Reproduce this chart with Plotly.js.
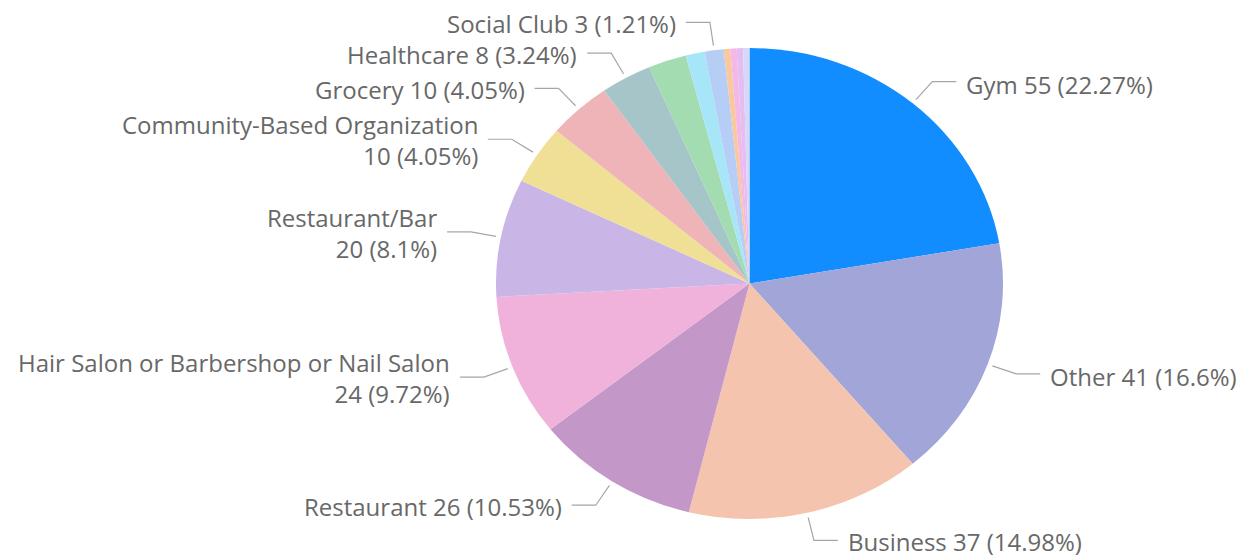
<!DOCTYPE html>
<html>
<head>
<meta charset="utf-8">
<script src="https://cdn.plot.ly/plotly-3.0.1.min.js"></script>
<style>
html,body{margin:0;padding:0;background:#fff;}
#chart{width:1242px;height:558px;}
</style>
</head>
<body>
<div id="chart"></div>
<script>
// ---- data ----
const categories = [
  'Gym', 'Other', 'Business', 'Restaurant',
  'Hair Salon or Barbershop or Nail Salon', 'Restaurant/Bar',
  'Community-Based Organization', 'Grocery', 'Healthcare',
  'Unlabeled 1', 'Unlabeled 2', 'Social Club',
  'Unlabeled 3', 'Unlabeled 4', 'Unlabeled 5', 'Unlabeled 6'
];
const counts = [55, 41, 37, 26, 24, 20, 10, 10, 8, 6, 3, 3, 1, 1, 1, 1];
const colors = [
  '#118DFF', '#A1A5D7', '#F4C4AE', '#C497C9', '#F0B2DA', '#C9B6E6',
  '#F0E096', '#EEB4B8', '#A6C5C8', '#A2DCB0', '#A6E6F8', '#B6CDF6',
  '#FAC89D', '#F3B8E6', '#E6BDF2', '#D6D8F8'
];
// which slices carry a data label, and which labels wrap onto two lines
const labelled = ['Gym','Other','Business','Restaurant','Hair Salon or Barbershop or Nail Salon',
  'Restaurant/Bar','Community-Based Organization','Grocery','Healthcare','Social Club'];
const wrapped = ['Hair Salon or Barbershop or Nail Salon','Restaurant/Bar','Community-Based Organization'];

// ---- layout geometry (pixels) ----
const W = 1242, H = 558;
const CX = 749.5, CY = 283.5, RY = 235.5, RX = 253.5;
const FONT = '"Segoe UI", "Open Sans", "Noto Sans", sans-serif';
const FONT_SIZE = 24;
const TEXT_COLOR = '#686868';
const LINE_COLOR = '#A6A6A6';

const total = counts.reduce((a, b) => a + b, 0);
const fmtPct = v => String(Number((v / total * 100).toFixed(2)));

const trace = {
  type: 'pie',
  labels: categories,
  values: counts,
  sort: false,
  direction: 'clockwise',
  rotation: 0,
  textinfo: 'none',
  hoverinfo: 'skip',
  marker: { colors: colors, line: { width: 0 } },
  domain: { x: [(CX - RY) / W, (CX + RY) / W], y: [(H - CY - RY) / H, (H - CY + RY) / H] },
  showlegend: false
};

// leader lines + labels derived from slice mid angles
const shapes = [];
const annotations = [];
const px = x => x / W, py = y => 1 - y / H;
let cum = 0;
counts.forEach((v, i) => {
  const mid = (cum + v / 2) / total * 2 * Math.PI;
  cum += v;
  const name = categories[i];
  if (!labelled.includes(name)) return;
  const s = Math.sin(mid), c = Math.cos(mid);
  const x0 = CX + RX * 1.02 * s, y0 = CY - RY * 1.02 * c;
  const x1 = CX + RX * 1.12 * s, y1 = CY - RY * 1.12 * c;
  const right = s >= 0;
  const x2 = x1 + (right ? 24 : -24);
  shapes.push({
    type: 'path', xref: 'paper', yref: 'paper',
    path: `M ${px(x0)} ${py(y0)} L ${px(x1)} ${py(y1)} L ${px(x2)} ${py(y1)}`,
    line: { color: LINE_COLOR, width: 1.2 }
  });
  const txt = wrapped.includes(name)
    ? `${name}<br>${v} (${fmtPct(v)}%)`
    : `${name} ${v} (${fmtPct(v)}%)`;
  // keep the text centre a little below the leader line, but inside the canvas
  let shift = right ? 3 : 1;
  const maxCentre = H - FONT_SIZE * 0.68;
  if (y1 + shift > maxCentre) shift = maxCentre - y1;
  annotations.push({
    xref: 'paper', yref: 'paper',
    x: px(x2 + (right ? 8 : -8)), y: py(y1),
    xanchor: right ? 'left' : 'right', yanchor: 'middle',
    yshift: -shift,
    align: right ? 'left' : 'right',
    text: txt, showarrow: false,
    font: { family: FONT, size: FONT_SIZE, color: TEXT_COLOR }
  });
});

const layout = {
  width: W, height: H,
  margin: { l: 0, r: 0, t: 0, b: 0 },
  paper_bgcolor: '#ffffff',
  plot_bgcolor: '#ffffff',
  shapes: shapes,
  annotations: annotations,
  hovermode: false
};

Plotly.newPlot('chart', [trace], layout, { displayModeBar: false, staticPlot: true }).then(gd => {
  // Stretch the pie horizontally so it matches the slightly elliptical reference
  const layer = gd.querySelector('.pielayer');
  if (layer) {
    const sx = RX / RY;
    layer.setAttribute('transform', `translate(${CX},0) scale(${sx},1) translate(${-CX},0)`);
  }
});
</script>
</body>
</html>
